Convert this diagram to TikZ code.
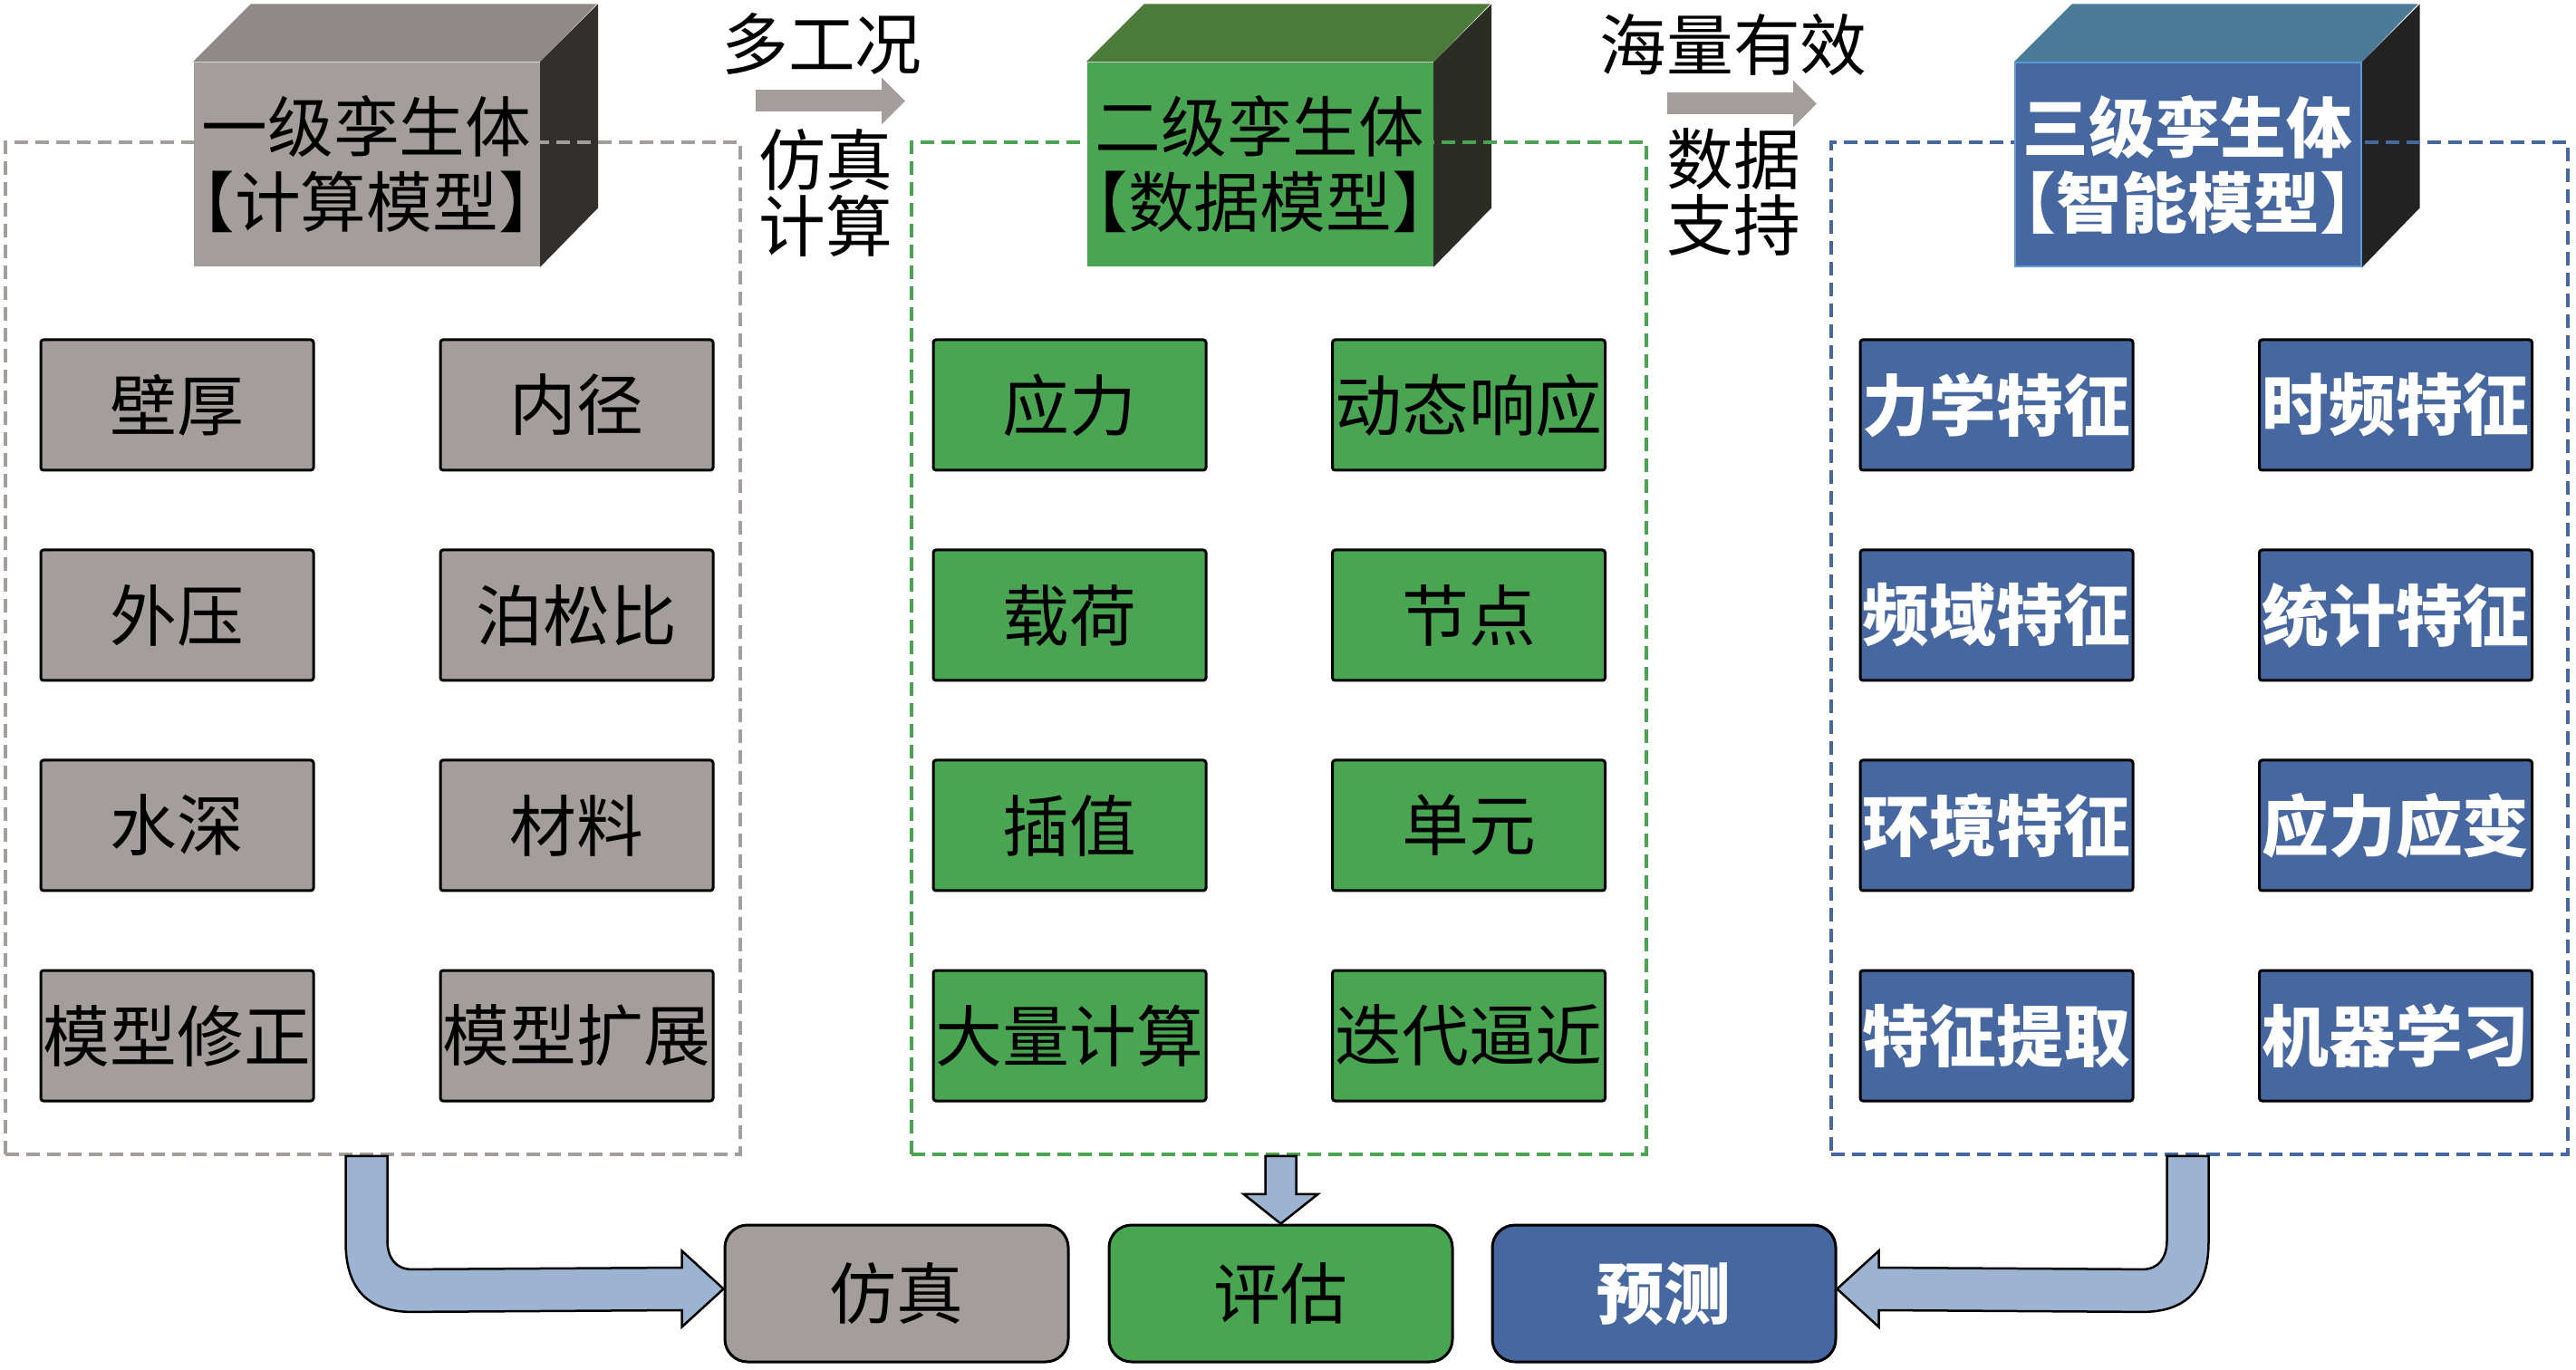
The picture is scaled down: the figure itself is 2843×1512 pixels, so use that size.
\documentclass[tikz,border=0pt]{standalone}
\usepackage{fontspec}
\setmainfont{Noto Sans CJK SC}
\usepackage{tikz}
\usetikzlibrary{calc,backgrounds,arrows.meta}

\definecolor{calcgray}{RGB}{163,157,155}
\definecolor{calctop}{RGB}{143,138,135}
\definecolor{calcside}{RGB}{51,47,45}
\definecolor{datagreen}{RGB}{74,165,82}
\definecolor{datatop}{RGB}{75,122,59}
\definecolor{dataside}{RGB}{43,45,37}
\definecolor{smartblue}{RGB}{71,103,161}
\definecolor{smarttop}{RGB}{75,122,153}
\definecolor{smartside}{RGB}{34,34,34}
\definecolor{smartedge}{RGB}{91,155,213}
\definecolor{flowblue}{RGB}{157,179,210}

\tikzset{
    face/.style={minimum width=38.2mm, minimum height=22.5mm, inner sep=0pt, align=center, font=\fontsize{20.7pt}{23.6pt}\selectfont},
    feature/.style={draw=black, line width=0.3mm, rounded corners=0.3mm, minimum width=30.1mm, minimum height=14.4mm, inner sep=0pt, font=\fontsize{21pt}{24pt}\selectfont},
    result/.style={draw=black, line width=0.3mm, rounded corners=2.5mm, minimum width=37.9mm, minimum height=15.1mm, inner sep=0pt, font=\fontsize{21pt}{24pt}\selectfont},
    bright/.style={text=white, font=\fontsize{21pt}{24pt}\selectfont\bfseries},
    groupbox/.style={line width=0.38mm, dash pattern=on 1.5mm off 0.8mm, minimum width=81.1mm, minimum height=111.7mm, inner sep=0pt},
    tag/.style={inner sep=0pt, align=center, font=\fontsize{21pt}{21pt}\selectfont},
    flow/.style={draw=calcgray, line width=2.4mm, -{Triangle[length=2.6mm, width=5mm]}},
    fatarrow/.style={fill=flowblue, draw=black, line width=0.25mm, line join=miter},
}

\begin{document}
\begin{tikzpicture}[x=0.1mm, y=-0.1mm]
    \useasboundingbox (0,0) rectangle (2843,1512);

    \node[face, fill=calcgray] (twin1) at (404.5,181.5) {一级孪生体\\\kern-.45em【计算模型】\kern-.45em};
    \node[face, fill=datagreen] (twin2) at (1390.5,181.5) {二级孪生体\\\kern-.45em【数据模型】\kern-.45em};
    \node[face, fill=smartblue, draw=smartedge, line width=0.2mm, text=white, font=\fontsize{20.7pt}{23.6pt}\selectfont\bfseries] (twin3) at (2414.5,182) {三级孪生体\\\kern-.45em【智能模型】\kern-.45em};

    \begin{scope}[on background layer]
        \fill[calctop] (twin1.north west) -- ++(64,-64) -- ++(382,0) -- (twin1.north east) -- cycle;
        \fill[calcside] (twin1.north east) -- ++(64,-64) -- ++(0,225) -- (twin1.south east) -- cycle;
        \fill[datatop] (twin2.north west) -- ++(64,-64) -- ++(382,0) -- (twin2.north east) -- cycle;
        \fill[dataside] (twin2.north east) -- ++(64,-64) -- ++(0,225) -- (twin2.south east) -- cycle;
        \fill[smarttop] (twin3.north west) -- ++(64,-64) -- ++(382,0) -- (twin3.north east) -- cycle;
        \fill[smartside] (twin3.north east) -- ++(64,-64) -- ++(0,225) -- (twin3.south east) -- cycle;

        \node[groupbox, draw=calcgray] (f1) at (411.5,715.5) {};
        \node[groupbox, draw=datagreen] (f2) at (1411.5,715.5) {};
        \node[groupbox, draw=smartblue, minimum width=81.3mm] (f3) at (2427.5,715.5) {};
    \end{scope}

    \node[tag] (cond) at (907,48) {多工况};
    \node[tag] (simcalc) at (911,213) {仿真\\计算};
    \node[tag] (mass) at (1913,50) {海量有效};
    \node[tag] (support) at (1913,212) {数据\\支持};
    \coordinate (t1) at (834,111.5);
    \coordinate (h1) at (999,111.5);
    \coordinate (t2) at (1840,114.5);
    \coordinate (h2) at (2005,114.5);
    \draw[flow] (t1) -- (h1);
    \draw[flow] (t2) -- (h2);

    \node[feature, fill=calcgray] (thick) at (195.5,447) {壁厚};
    \node[feature, fill=calcgray] (bore) at (636.5,447) {内径};
    \node[feature, fill=calcgray] (press) at (195.5,679) {外压};
    \node[feature, fill=calcgray] (poisson) at (636.5,679) {泊松比};
    \node[feature, fill=calcgray] (depth) at (195.5,911) {水深};
    \node[feature, fill=calcgray] (material) at (636.5,911) {材料};
    \node[feature, fill=calcgray] (modfix) at (195.5,1143) {模型修正};
    \node[feature, fill=calcgray] (modext) at (636.5,1143) {模型扩展};

    \node[feature, fill=datagreen] (stress) at (1180.5,447) {应力};
    \node[feature, fill=datagreen] (dynresp) at (1621,447) {动态响应};
    \node[feature, fill=datagreen] (load) at (1180.5,679) {载荷};
    \node[feature, fill=datagreen] (mnode) at (1621,679) {节点};
    \node[feature, fill=datagreen] (interp) at (1180.5,911) {插值};
    \node[feature, fill=datagreen] (elem) at (1621,911) {单元};
    \node[feature, fill=datagreen] (masscalc) at (1180.5,1143) {大量计算};
    \node[feature, fill=datagreen] (iterate) at (1621,1143) {迭代逼近};

    \node[feature, fill=smartblue, bright] (mech) at (2203.5,447) {力学特征};
    \node[feature, fill=smartblue, bright] (timefreq) at (2644,447) {时频特征};
    \node[feature, fill=smartblue, bright] (freqdom) at (2203.5,679) {频域特征};
    \node[feature, fill=smartblue, bright] (stats) at (2644,679) {统计特征};
    \node[feature, fill=smartblue, bright] (env) at (2203.5,911) {环境特征};
    \node[feature, fill=smartblue, bright] (strain) at (2644,911) {应力应变};
    \node[feature, fill=smartblue, bright] (extract) at (2203.5,1143) {特征提取};
    \node[feature, fill=smartblue, bright] (mlearn) at (2644,1143) {机器学习};

    \node[result, fill=calcgray] (sim) at (989.5,1427.5) {仿真};
    \node[result, fill=datagreen] (eval) at (1413.5,1427.5) {评估};
    \node[result, fill=smartblue, bright] (pred) at (1836.5,1427.5) {预测};

    \coordinate (s1) at (twin1.south |- f1.south);
    \coordinate (s2) at (eval.north |- f2.south);
    \coordinate (s3) at (twin3.south |- f3.south);
    \coordinate (e1) at ($(sim.west)+(0,-5)$);
    \coordinate (e3) at ($(pred.east)+(0,-5)$);

    \draw[fatarrow] ($(s1)+(-23,0)$) -- ($(s1)+(-23,95)$) .. controls ($(s1)+(-23,150)$) and ($(s1)+(5,172)$) .. ($(s1)+(50,172)$)
        -- ($(e1)+(-46,23.5)$) -- ($(e1)+(-46,42)$) -- (e1) -- ($(e1)+(-46,-42)$) -- ($(e1)+(-46,-23.5)$)
        -- ($(s1)+(50,125)$) .. controls ($(s1)+(32,125)$) and ($(s1)+(23,112)$) .. ($(s1)+(23,93)$) -- ($(s1)+(23,0)$) -- cycle;
    \draw[fatarrow] ($(s2)+(-17,0)$) -- ($(s2)+(-17,42)$) -- ($(s2)+(-41,42)$) -- (eval.north) -- ($(s2)+(41,42)$) -- ($(s2)+(17,42)$) -- ($(s2)+(17,0)$) -- cycle;
    \draw[fatarrow] ($(s3)+(23,0)$) -- ($(s3)+(23,95)$) .. controls ($(s3)+(23,150)$) and ($(s3)+(-5,172)$) .. ($(s3)+(-50,172)$)
        -- ($(e3)+(46,23.5)$) -- ($(e3)+(46,42)$) -- (e3) -- ($(e3)+(46,-42)$) -- ($(e3)+(46,-23.5)$)
        -- ($(s3)+(-50,125)$) .. controls ($(s3)+(-32,125)$) and ($(s3)+(-23,112)$) .. ($(s3)+(-23,93)$) -- ($(s3)+(-23,0)$) -- cycle;
\end{tikzpicture}
\end{document}
